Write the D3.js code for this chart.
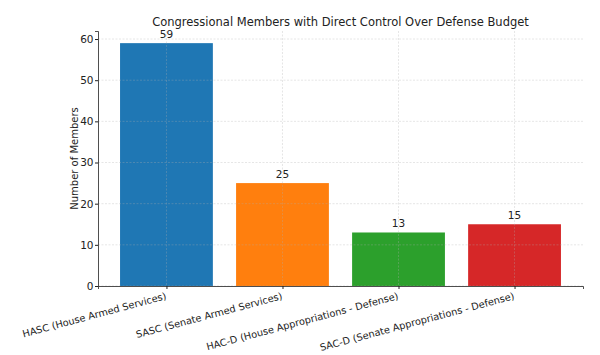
<!DOCTYPE html>
<html><head><meta charset="utf-8">
<script src="https://cdn.jsdelivr.net/npm/d3@7"></script>
<style>body{margin:0;background:#fff}svg{display:block}text{font-family:"DejaVu Sans",sans-serif;fill:#222}</style>
</head><body><svg id="c" width="600" height="355"></svg>
<script>
const categories = ["HASC (House Armed Services)","SASC (Senate Armed Services)","HAC-D (House Appropriations - Defense)","SAC-D (Senate Appropriations - Defense)"];
const values = [59, 25, 13, 15];
const colors = ["#1f77b4","#ff7f0e","#2ca02c","#d62728"];
const yTicks = [0,10,20,30,40,50,60];
const title = "Congressional Members with Direct Control Over Defense Budget";
const yLabel = "Number of Members";

const svg = d3.select("#c");
const L=98, R=583, T=31, B=286;
const x = d3.scaleLinear().domain([-0.59, categories.length-1+0.59]).range([L,R]);
const bw = x(0.4)-x(-0.4);
const y = d3.scaleLinear().domain([0, d3.max(values)*1.05]).range([B,T]);

// bars
svg.selectAll("rect.bar").data(values).enter().append("rect")
  .attr("x",(d,i)=>x(i)-bw/2).attr("width",bw)
  .attr("y",d=>y(d)).attr("height",d=>B-y(d)).attr("fill",(d,i)=>colors[i]);

// grid (on top)
const g = svg.append("g").attr("stroke","#b0b0b0").attr("stroke-opacity",0.45).attr("stroke-width",0.7).attr("stroke-dasharray","2,1.5");
g.selectAll("line.h").data(yTicks).enter().append("line").attr("x1",L).attr("x2",R).attr("y1",d=>y(d)).attr("y2",d=>y(d));
g.selectAll("line.v").data(categories).enter().append("line").attr("x1",(d,i)=>x(i)).attr("x2",(d,i)=>x(i)).attr("y1",T).attr("y2",B);

// y axis
const ya = svg.append("g").attr("transform",`translate(${L},0)`).call(d3.axisLeft(y).tickValues(yTicks).tickSize(3).tickPadding(1.5));
ya.select(".domain").attr("stroke","#222").attr("stroke-width",0.8);
ya.selectAll(".tick line").attr("stroke","#222");
ya.selectAll("text").attr("font-size",10.5).style("fill","#222");

// x axis
const xa = svg.append("g").attr("transform",`translate(0,${B})`).call(d3.axisBottom(x).tickValues(d3.range(categories.length)).tickFormat(i=>categories[i]).tickSize(3).tickPadding(0));
xa.select(".domain").attr("stroke","#222").attr("stroke-width",0.8);
xa.selectAll(".tick line").attr("stroke","#222");
xa.selectAll("text").attr("font-size",9.8).style("fill","#222")
  .attr("text-anchor","end").attr("dy",null).attr("y",0)
  .attr("transform","translate(0,13) rotate(-15)");

// value labels
svg.selectAll("text.val").data(values).enter().append("text")
  .attr("x",(d,i)=>x(i)).attr("y",d=>y(d)-5).attr("text-anchor","middle").attr("font-size",10.5).text(d=>d);

// title
svg.append("text").attr("x",(L+R)/2).attr("y",26).attr("text-anchor","middle").attr("font-size",11.5).text(title);
// y label
svg.append("text").attr("transform",`translate(78,${(T+B)/2}) rotate(-90)`).attr("text-anchor","middle").attr("font-size",10).text(yLabel);
</script></body></html>
